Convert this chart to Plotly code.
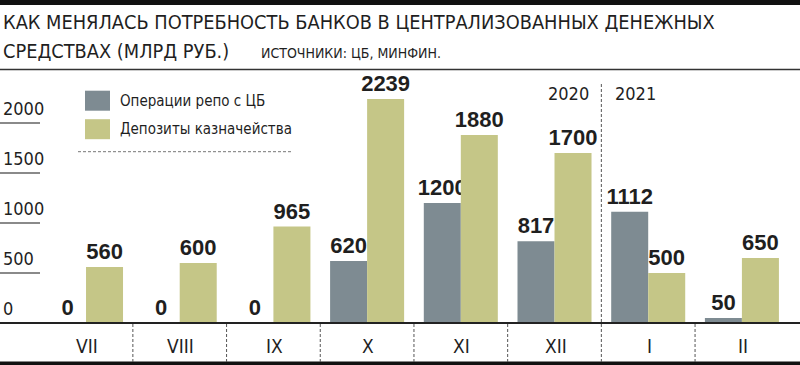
import plotly.graph_objects as go

months = ["VII", "VIII", "IX", "X", "XI", "XII", "I", "II"]
repo = [0, 0, 0, 620, 1200, 817, 1112, 50]
deposits = [560, 600, 965, 2239, 1880, 1700, 500, 650]
y_ticks = [0, 500, 1000, 1500, 2000]
series_names = ["Операции репо с ЦБ", "Депозиты казначейства"]
years = ["2020", "2021"]

W, H = 800, 365
TOP, BASE = 70, 323
Y_RANGE = [0, (BASE - TOP) * 10]
X_RANGE = [-0.918, 7.62]

GRAY = "#7e8b92"
GREEN = "#c5c687"
INK = "#1f1f1f"
NARROW = "DejaVu Sans Condensed, Liberation Sans Narrow, Arial Narrow, sans-serif"
BOLD = "Liberation Sans, Arial, Helvetica, sans-serif"


def fx(px):
    return px / W


def fy(py):
    return (BASE - py) / (BASE - TOP)


def cx(c):
    return (c - X_RANGE[0]) / (X_RANGE[1] - X_RANGE[0])


def vy(v):
    return (v - Y_RANGE[0]) / (Y_RANGE[1] - Y_RANGE[0])


fig = go.Figure()
for name, vals, col in [(series_names[0], repo, GRAY), (series_names[1], deposits, GREEN)]:
    fig.add_trace(go.Bar(
        x=list(range(len(months))), y=vals, name=name, marker=dict(color=col, line=dict(width=0)),
        text=[str(v) for v in vals], textposition="outside", cliponaxis=False,
        constraintext="none",
        textfont=dict(family=BOLD, size=22, color=INK, weight="bold"),
        showlegend=False,
    ))

shapes = []
annotations = []

# top black bar, title rule, bottom bar
shapes.append(dict(type="rect", xref="paper", yref="paper", x0=0, x1=1, y0=fy(0), y1=fy(5),
                   fillcolor="#111", line=dict(width=0), layer="above"))
shapes.append(dict(type="line", xref="paper", yref="paper", x0=0, x1=1, y0=fy(69.5), y1=fy(69.5),
                   line=dict(color="#333", width=1.5)))
shapes.append(dict(type="rect", xref="paper", yref="paper", x0=0, x1=1, y0=fy(361.5), y1=fy(366),
                   fillcolor="#111", line=dict(width=0)))
# axis line
shapes.append(dict(type="line", xref="paper", yref="paper", x0=0, x1=1, y0=0, y1=0,
                   line=dict(color="#222", width=2), layer="above"))

# y tick labels with underlines
for t in y_ticks:
    yp = vy(t)
    if t > 0:
        shapes.append(dict(type="line", xref="paper", yref="paper", x0=0, x1=fx(40), y0=yp, y1=yp,
                           line=dict(color="#8a8a8a", width=2)))
    annotations.append(dict(text=str(t), xref="paper", yref="paper", x=fx(1), y=yp + 2 / (BASE - TOP),
                            xanchor="left", yanchor="bottom", showarrow=False,
                            font=dict(family=NARROW, size=18, color=INK)))

# month separators
for i in range(len(months) - 1):
    xp = cx(i + 0.5)
    top = fy(83) if months[i + 1] == "I" else 0
    shapes.append(dict(type="line", xref="paper", yref="paper", x0=xp, x1=xp, y0=fy(362), y1=top,
                       line=dict(color="#555", width=1, dash="3px,2px")))

# month labels
for i, m in enumerate(months):
    annotations.append(dict(text=m, xref="paper", yref="paper", x=cx(i) + fx(1), y=fy(345.5),
                            xanchor="center", yanchor="middle", showarrow=False,
                            font=dict(family=NARROW, size=19, color=INK)))

# year labels
annotations.append(dict(text=years[0], xref="paper", yref="paper", x=fx(591), y=fy(93),
                        xanchor="right", yanchor="middle", showarrow=False,
                        font=dict(family=NARROW, size=18, color=INK)))
annotations.append(dict(text=years[1], xref="paper", yref="paper", x=fx(613), y=fy(93),
                        xanchor="left", yanchor="middle", showarrow=False,
                        font=dict(family=NARROW, size=18, color=INK)))

# legend
for k, (name, col) in enumerate(zip(series_names, [GRAY, GREEN])):
    y0 = 90.7 + k * 28.5
    shapes.append(dict(type="rect", xref="paper", yref="paper", x0=fx(85), x1=fx(110),
                       y0=fy(y0), y1=fy(y0 + 20), fillcolor=col, line=dict(width=0)))
    annotations.append(dict(text=name, xref="paper", yref="paper", x=fx(118), y=fy(y0 + 10),
                            xanchor="left", yanchor="middle", showarrow=False,
                            font=dict(family=NARROW, size=15, color=INK)))
shapes.append(dict(type="line", xref="paper", yref="paper", x0=fx(78), x1=fx(291), y0=fy(151.7), y1=fy(151.7),
                   line=dict(color="#777", width=1, dash="3px,2px")))

# title
annotations.append(dict(text="КАК МЕНЯЛАСЬ ПОТРЕБНОСТЬ БАНКОВ В ЦЕНТРАЛИЗОВАННЫХ ДЕНЕЖНЫХ",
                        xref="paper", yref="paper", x=fx(1), y=fy(23), xanchor="left", yanchor="middle",
                        showarrow=False, font=dict(family=NARROW, size=19.8, color=INK)))
annotations.append(dict(text="СРЕДСТВАХ (МЛРД РУБ.)",
                        xref="paper", yref="paper", x=fx(1), y=fy(51), xanchor="left", yanchor="middle",
                        showarrow=False, font=dict(family=NARROW, size=19.8, color=INK)))
annotations.append(dict(text="ИСТОЧНИКИ: ЦБ, МИНФИН.",
                        xref="paper", yref="paper", x=fx(259), y=fy(53), xanchor="left", yanchor="middle",
                        showarrow=False, font=dict(family=NARROW, size=14, color=INK)))

fig.update_layout(
    width=W, height=H,
    margin=dict(l=0, r=0, t=TOP, b=H - BASE, pad=0),
    paper_bgcolor="white", plot_bgcolor="white",
    barmode="group", bargap=0.21, bargroupgap=0,
    xaxis=dict(range=X_RANGE, showgrid=False, zeroline=False, showticklabels=False, showline=False, fixedrange=True),
    yaxis=dict(range=Y_RANGE, showgrid=False, zeroline=False, showticklabels=False, showline=False, fixedrange=True),
    shapes=shapes, annotations=annotations, showlegend=False,
)

fig.write_html("out.html")
